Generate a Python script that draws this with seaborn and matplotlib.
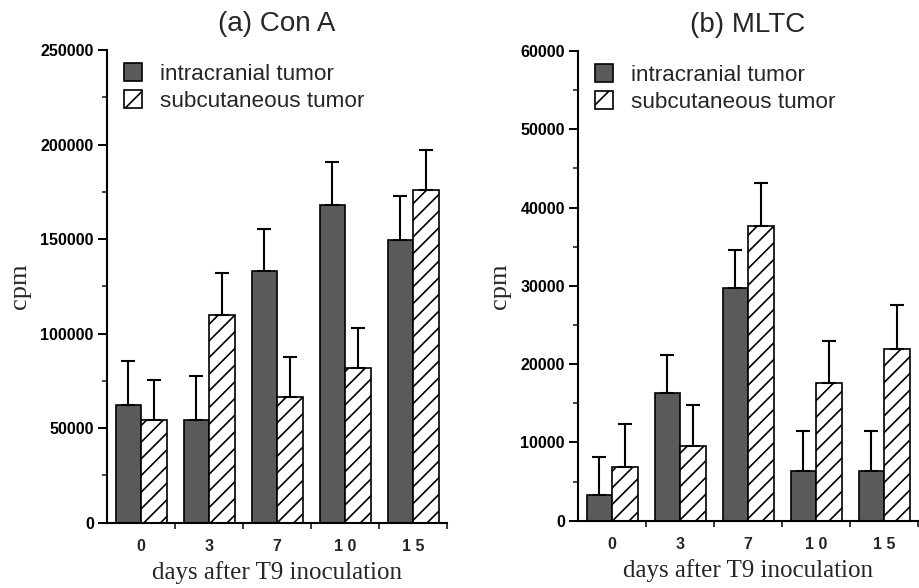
import matplotlib
matplotlib.use("Agg")
import matplotlib.pyplot as plt
from matplotlib.patches import Patch
from matplotlib.ticker import MultipleLocator
import seaborn as sns
import pandas as pd

# ---- data ----
days = ["0", "3", "7", "10", "15"]
day_labels = ["0", "3", "7", "1 0", "1 5"]
groups = ["intracranial tumor", "subcutaneous tumor"]

cona_intra = [62500, 54500, 133000, 168000, 149500]
cona_intra_err = [23000, 23000, 22500, 23000, 23500]
cona_subcut = [54500, 110000, 66500, 82000, 176000]
cona_subcut_err = [21000, 22000, 21000, 21000, 21000]

mltc_intra = [3300, 16300, 29700, 6400, 6400]
mltc_intra_err = [4900, 4900, 4900, 5000, 5000]
mltc_subcut = [6800, 9500, 37700, 17600, 21900]
mltc_subcut_err = [5500, 5300, 5400, 5300, 5600]

cona_yticks = [0, 50000, 100000, 150000, 200000, 250000]
mltc_yticks = [0, 10000, 20000, 30000, 40000, 50000, 60000]

sns.set_style("ticks")
plt.rcParams["font.family"] = ["Liberation Sans", "DejaVu Sans"]
plt.rcParams["hatch.linewidth"] = 1.2

DARK = "#5a5a5a"

fig = plt.figure(figsize=(9.19, 5.88), dpi=100)
ax1 = fig.add_axes([107 / 919, 65.3 / 588, 340 / 919, 472.7 / 588])
ax2 = fig.add_axes([578 / 919, 67.3 / 588, 340 / 919, 469.7 / 588])


def panel(ax, intra, intra_err, subcut, subcut_err, yticks, minor, title):
    df = pd.DataFrame({
        "day": days * 2,
        "group": [groups[0]] * len(days) + [groups[1]] * len(days),
        "cpm": intra + subcut,
    })
    sns.barplot(data=df, x="day", y="cpm", hue="group", order=days,
                hue_order=groups, palette=[DARK, "white"], saturation=1,
                edgecolor="black", linewidth=1.2, width=0.75,
                errorbar=None, legend=False, ax=ax)
    for bar in ax.containers[1]:
        bar.set_hatch("//")
    for cont, errs in zip(ax.containers, [intra_err, subcut_err]):
        xs = [b.get_x() + b.get_width() / 2 for b in cont]
        ys = [b.get_height() for b in cont]
        ax.errorbar(xs, ys, yerr=[[0] * len(errs), errs], fmt="none",
                    ecolor="black", elinewidth=1.5, capsize=5, capthick=1.5,
                    zorder=1)
    ax.set_xlim(-0.5, len(days) - 0.5)
    ax.set_ylim(yticks[0], yticks[-1])
    ax.set_yticks(yticks)
    ax.set_yticklabels([str(t) for t in yticks], fontweight="bold", fontsize=11.5)
    ax.yaxis.set_minor_locator(MultipleLocator(minor))
    ax.set_xticks(range(len(days)))
    ax.set_xticklabels(day_labels, fontweight="bold", fontsize=11.5)
    ax.set_xticks([i + 0.5 for i in range(len(days))], minor=True)
    ax.tick_params(axis="y", which="major", length=6.5, width=1.4, pad=3,
                   direction="out", colors="black")
    ax.tick_params(axis="y", which="minor", length=3.5, width=1.2,
                   direction="out", left=True)
    ax.tick_params(axis="x", which="major", length=0, pad=12)
    ax.tick_params(axis="x", which="minor", length=4.5, width=1.3,
                   direction="out", bottom=True)
    sns.despine(ax=ax)
    for s in ("left", "bottom"):
        ax.spines[s].set_linewidth(1.5)
        ax.spines[s].set_color("black")
    ax.set_ylabel("cpm", family=["Liberation Serif"], fontsize=19, labelpad=7)
    ax.set_xlabel("days after T9 inoculation", family=["Liberation Serif"],
                  fontsize=18, labelpad=5)
    ax.set_title(title, fontsize=20, pad=14)
    handles = [Patch(facecolor=DARK, edgecolor="black", linewidth=1.2, label=groups[0]),
               Patch(facecolor="white", edgecolor="black", linewidth=1.2,
                     hatch="/", label=groups[1])]
    ax.legend(handles=handles, loc="upper left", frameon=False, fontsize=16.2,
              handlelength=0.8, handleheight=0.8, handletextpad=0.8,
              labelspacing=0.25, borderaxespad=0.3, bbox_to_anchor=(0.005, 1.005))


panel(ax1, cona_intra, cona_intra_err, cona_subcut, cona_subcut_err,
      cona_yticks, 25000, "(a) Con A")
panel(ax2, mltc_intra, mltc_intra_err, mltc_subcut, mltc_subcut_err,
      mltc_yticks, 5000, "(b) MLTC")

fig.savefig("out.png", dpi=100)
